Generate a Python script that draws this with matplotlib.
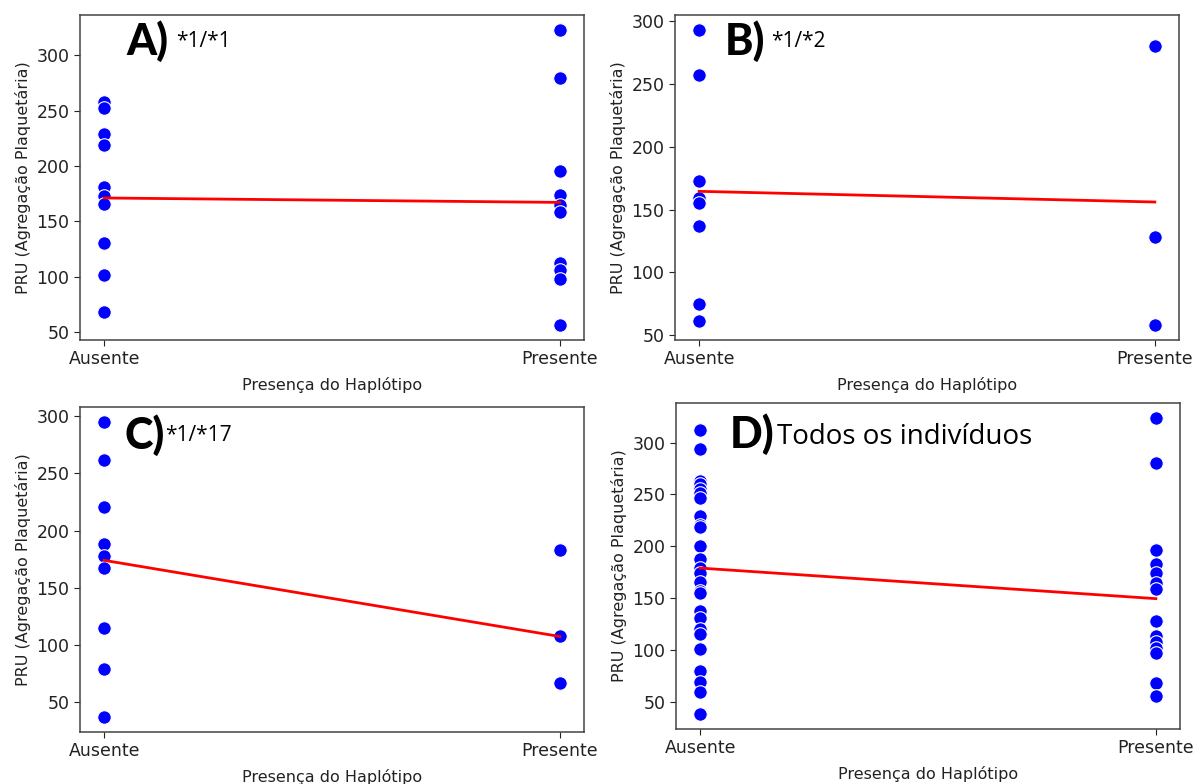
import matplotlib
matplotlib.use("Agg")
import matplotlib.pyplot as plt

# categories on the x axis
groups = ["Ausente", "Presente"]

# A) *1/*1
a_ausente = [258, 252, 229, 219, 181, 173, 166, 130, 101, 68]
a_presente = [323, 279, 195, 174, 165, 158, 112, 106, 98, 56]
a_fit = [171, 167]

# B) *1/*2
b_ausente = [293, 257, 173, 159, 155, 137, 75, 61]
b_presente = [280, 128, 58]
b_fit = [164.5, 156]

# C) *1/*17
c_ausente = [295, 262, 221, 188, 178, 167, 115, 79, 37]
c_presente = [183, 108, 67]
c_fit = [174, 107.5]

# D) todos os individuos
d_ausente = [312, 294, 263, 260, 255, 251, 247, 229, 221, 219, 200, 188,
             179, 174, 166, 157, 155, 138, 131, 120, 115, 101, 80, 69, 59, 38]
d_presente = [324, 280, 196, 183, 174, 165, 159, 128, 113, 108, 102, 97, 68, 56]
d_fit = [179, 149.5]

W, H = 1195, 784
fig = plt.figure(figsize=(W / 100, H / 100), dpi=100)


def px_axes(left, top, right, bottom):
    return fig.add_axes([left / W, 1 - bottom / H, (right - left) / W, (bottom - top) / H])


def panel(ax, ausente, presente, fit):
    ax.scatter([0] * len(ausente), ausente, s=95, color="blue",
               edgecolor="white", linewidth=0.8, zorder=3)
    ax.scatter([1] * len(presente), presente, s=95, color="blue",
               edgecolor="white", linewidth=0.8, zorder=3)
    ax.plot([0, 1], fit, color="red", linewidth=2, zorder=4)
    ax.set_xticks([0, 1])
    ax.set_xticklabels(groups)
    ax.set_xlim(-0.053, 1.053)
    ax.set_yticks([50, 100, 150, 200, 250, 300])
    ax.tick_params(labelsize=12.5, colors="#222222", length=4)
    ax.set_xlabel("Presença do Haplótipo", fontsize=11.5, color="#222222", labelpad=6)
    ax.set_ylabel("PRU (Agregação Plaquetária)", fontsize=11.5, color="#222222")
    for sp in ax.spines.values():
        sp.set_color("#444444")
        sp.set_linewidth(1.1)


ax_a = px_axes(80, 15, 584, 340)
panel(ax_a, a_ausente, a_presente, a_fit)
ax_b = px_axes(675, 15, 1179, 340)
panel(ax_b, b_ausente, b_presente, b_fit)
ax_c = px_axes(80, 407, 584, 732)
panel(ax_c, c_ausente, c_presente, c_fit)
ax_d = px_axes(676, 403, 1180, 729)
panel(ax_d, d_ausente, d_presente, d_fit)

# panel letters, placed in figure pixels
fig.text(126 / W, 1 - 55 / H, "A)", fontsize=31, fontweight=900, family="Lato")
fig.text(176 / W, 1 - 47 / H, "*1/*1", fontsize=15, family="Open Sans")
fig.text(725 / W, 1 - 55 / H, "B)", fontsize=31, fontweight=900, family="Lato")
fig.text(771 / W, 1 - 47 / H, "*1/*2", fontsize=15, family="Open Sans")
fig.text(125 / W, 1 - 449 / H, "C)", fontsize=31, fontweight=900, family="Lato")
fig.text(165 / W, 1 - 441 / H, "*1/*17", fontsize=15, family="Open Sans")
fig.text(730 / W, 1 - 448 / H, "D)", fontsize=31, fontweight=900, family="Lato")
fig.text(777 / W, 1 - 444 / H, "Todos os indivíduos", fontsize=20, family="Open Sans")

fig.savefig("out.png", dpi=100)
